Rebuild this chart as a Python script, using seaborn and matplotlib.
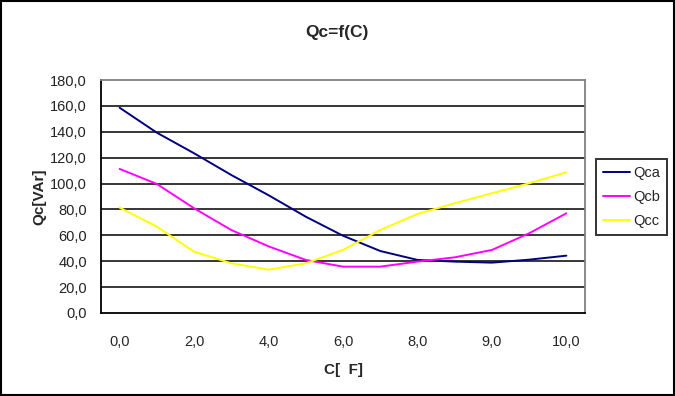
import pandas as pd
import matplotlib
matplotlib.use("Agg")
import matplotlib.pyplot as plt
import matplotlib.patches as mpatches
import seaborn as sns

# ── Data ──────────────────────────────────────────────────────────────────────
categories = ["0,0", "1,0", "2,0", "3,0", "4,0", "5,0", "6,0",
              "7,0", "8,0", "8,5", "9,0", "9,5", "10,0"]
qca = [158.6, 139.3, 123.4, 106.6, 91.0, 74.4, 59.7, 47.9, 41.0, 39.7, 38.9, 41.2, 44.3]
qcb = [111.3, 99.7, 80.9, 64.1, 51.5, 41.0, 35.8, 35.8, 39.7, 43.0, 48.7, 61.6, 77.0]
qcc = [81.4, 66.7, 47.4, 38.4, 33.5, 38.4, 48.7, 64.1, 76.5, 84.8, 92.5, 100.2, 108.7]
y_ticks = [0, 20, 40, 60, 80, 100, 120, 140, 160, 180]

COLORS = {"Qca": "#000080", "Qcb": "#FF00FF", "Qcc": "#FFFF00"}

idx = list(range(len(categories)))
df = pd.concat([
    pd.DataFrame({"pos": idx, "Q": vals, "serie": name})
    for name, vals in [("Qca", qca), ("Qcb", qcb), ("Qcc", qcc)]
])

sns.set_style("white")
plt.rcParams["font.family"] = ["Liberation Sans", "DejaVu Sans"]

fig = plt.figure(figsize=(6.75, 3.96), dpi=100)
ax = fig.add_axes([101 / 675, 1 - 313 / 396, 484 / 675, 233 / 396])

sns.lineplot(data=df, x="pos", y="Q", hue="serie", palette=COLORS,
             sort=False, linewidth=1.4, ax=ax, legend=True)

# Grid + axes styling (Excel look)
ax.set_ylim(0, 180)
ax.set_xlim(-0.5, len(categories) - 0.5)
ax.set_yticks(y_ticks)
ax.set_yticklabels([f"{v:.1f}".replace(".", ",") for v in y_ticks], fontsize=10.5)
for v in y_ticks[1:-1]:
    ax.axhline(v, color="black", lw=1.1, zorder=0)

# category boundaries carry the tick marks, labels sit on every 2nd category
ax.set_xticks([i - 0.5 for i in range(len(categories) + 1)])
ax.set_xticklabels([])
ax.set_xticks(idx[::2], minor=True)
ax.set_xticklabels(categories[::2], minor=True, fontsize=10.5)
ax.tick_params(axis="x", which="major", direction="out", length=4, width=1.1, color="black")
ax.tick_params(axis="x", which="minor", length=0, pad=16)
ax.tick_params(axis="y", direction="out", length=4, width=1.1, color="black", pad=6)
ax.tick_params(colors="#222222")

for s in ["left", "bottom"]:
    ax.spines[s].set_color("black")
    ax.spines[s].set_linewidth(1.3)
for s in ["top", "right"]:
    ax.spines[s].set_color("#808080")
    ax.spines[s].set_linewidth(1.3)

ax.set_xlabel("C[  F]", fontsize=11, fontweight="bold", labelpad=10)
ax.set_ylabel("Qc[VAr]", fontsize=11, fontweight="bold", labelpad=3)
fig.text(337 / 675, 1 - 32 / 396, "Qc=f(C)", ha="center", va="center",
         fontsize=12.5, fontweight="bold")

leg = ax.legend(loc="center left", bbox_to_anchor=(596 / 675, 1 - 197 / 396),
                bbox_transform=fig.transFigure, frameon=True, fancybox=False,
                fontsize=10.5, handlelength=1.9, handletextpad=0.2,
                borderpad=0.45, labelspacing=0.7, borderaxespad=0)
leg.get_frame().set_edgecolor("black")
leg.get_frame().set_linewidth(1.4)
for line in leg.get_lines():
    line.set_linewidth(1.4)
leg.set_title(None)

# chart-area border
fig.patches.append(mpatches.Rectangle((0.001, 0.002), 0.997, 0.996,
                                      transform=fig.transFigure, fill=False,
                                      edgecolor="black", linewidth=1.5))

fig.savefig("out.png", dpi=100)
